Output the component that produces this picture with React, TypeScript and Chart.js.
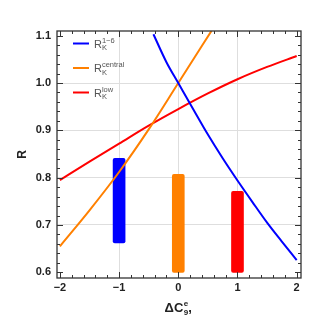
import React, { useEffect, useRef } from "react";
import { Chart, registerables } from "chart.js";

Chart.register(...registerables);

// ---- data ----
const blueX = [-0.42, -0.2, 0, 0.25, 0.5, 0.75, 1, 1.25, 1.5, 1.75, 2];
const blueY = [1.103, 1.044, 1.0, 0.945, 0.891, 0.841, 0.794, 0.749, 0.705, 0.665, 0.626];
const orangeX = [-2, -1.5, -1, -0.5, 0, 0.56];
const orangeY = [0.655, 0.731, 0.812, 0.902, 1.0, 1.11];
const redX = [-2, -1.5, -1, -0.5, 0, 0.5, 1, 1.5, 2];
const redY = [0.795, 0.834, 0.872, 0.91, 0.945, 0.978, 1.008, 1.034, 1.057];
const barX = [-1, 0, 1];
const barLow = [0.662, 0.6, 0.6];
const barHigh = [0.841, 0.807, 0.771];
const barColors = ["#0000ff", "#ff8000", "#ff0000"];
const xTicks = [-2, -1, 0, 1, 2];
const yTicks = [0.6, 0.7, 0.8, 0.9, 1.0, 1.1];
const legendSup = ["1\u22126", "central", "low"];
const legendColors = ["#0000ff", "#ff8000", "#ff0000"];

const FONT = "'Liberation Sans', Arial, sans-serif";

const zip = (xs: number[], ys: number[]) => xs.map((x, i) => ({ x, y: ys[i] }));

const framePlugin = {
  id: "framePlugin",
  afterDraw(chart: any) {
    const { ctx, chartArea } = chart;
    const { left, right, top, bottom } = chartArea;
    const xs = chart.scales.x;
    const ys = chart.scales.y;
    ctx.save();
    // ticks
    ctx.strokeStyle = "#333";
    ctx.lineWidth = 1;
    ctx.beginPath();
    for (let i = -10; i <= 10; i++) {
      const v = i / 5;
      const px = Math.round(xs.getPixelForValue(v)) + 0.5;
      const major = i % 5 === 0;
      const len = major ? 6 : 3;
      ctx.moveTo(px, bottom);
      ctx.lineTo(px, bottom - len);
      ctx.moveTo(px, top);
      ctx.lineTo(px, top + len);
    }
    for (let i = 30; i <= 55; i++) {
      const v = i / 50;
      const py = Math.round(ys.getPixelForValue(v)) + 0.5;
      const major = i % 5 === 0;
      const len = major ? 6 : 3;
      ctx.moveTo(left, py);
      ctx.lineTo(left + len, py);
      ctx.moveTo(right, py);
      ctx.lineTo(right - len, py);
    }
    ctx.stroke();
    // frame
    ctx.strokeStyle = "#333";
    ctx.lineWidth = 1.3;
    ctx.strokeRect(left, top, right - left, bottom - top);

    // legend
    const ly = [43.5, 68, 92.5];
    for (let i = 0; i < 3; i++) {
      ctx.strokeStyle = legendColors[i];
      ctx.lineWidth = 2;
      ctx.beginPath();
      ctx.moveTo(73, ly[i]);
      ctx.lineTo(89, ly[i]);
      ctx.stroke();
      ctx.fillStyle = "#555";
      ctx.textBaseline = "alphabetic";
      ctx.textAlign = "left";
      ctx.font = `11px ${FONT}`;
      const bx = 94;
      const by = ly[i] + 4;
      ctx.fillText("R", bx, by);
      const rw = ctx.measureText("R").width;
      ctx.font = `7.5px ${FONT}`;
      ctx.fillText("K", bx + rw, by + 2.5);
      ctx.fillText(legendSup[i], bx + rw, by - 5);
    }

    // y title
    ctx.fillStyle = "#222";
    ctx.font = `bold 12px ${FONT}`;
    ctx.save();
    ctx.translate(22.5, (top + bottom) / 2);
    ctx.rotate(-Math.PI / 2);
    ctx.textAlign = "center";
    ctx.textBaseline = "middle";
    ctx.fillText("R", 0, 0);
    ctx.restore();

    // x title
    ctx.textAlign = "left";
    ctx.textBaseline = "alphabetic";
    ctx.font = `bold 13px ${FONT}`;
    const main = "\u0394C";
    const mw = ctx.measureText(main).width;
    ctx.font = `bold 8px ${FONT}`;
    const sw = Math.max(ctx.measureText("9").width, ctx.measureText("e").width);
    ctx.font = `bold 13px ${FONT}`;
    const cw = ctx.measureText(",").width;
    const total = mw + sw + cw;
    const cx = (left + right) / 2 - 1;
    const x0 = cx - total / 2;
    const base = 312;
    ctx.fillText(main, x0, base);
    ctx.font = `bold 8px ${FONT}`;
    ctx.fillText("9", x0 + mw + 0.5, base + 2.5);
    ctx.fillText("e", x0 + mw + 0.5, base - 6);
    ctx.font = `bold 13px ${FONT}`;
    ctx.fillText(",", x0 + mw + sw + 0.5, base);
    ctx.restore();
  },
};

export default function App() {
  const ref = useRef<HTMLCanvasElement | null>(null);
  useEffect(() => {
    document.body.style.margin = "0";
    const canvas = ref.current!;
    const lineDs = (label: string, xs: number[], ys: number[], color: string) => ({
      type: "line" as const,
      label,
      data: zip(xs, ys),
      borderColor: color,
      backgroundColor: color,
      borderWidth: 2,
      pointRadius: 0,
      cubicInterpolationMode: "monotone" as const,
      fill: false,
      order: 1,
    });
    const gridColor = (c: any, edges: number[]) => {
      const v = c && c.tick ? c.tick.value : NaN;
      return edges.some((e) => Math.abs(v - e) < 1e-9) ? "rgba(0,0,0,0)" : "#dedede";
    };
    const chart = new Chart(canvas, {
      type: "line",
      data: {
        datasets: [
          lineDs("blue", blueX, blueY, "#0000ff"),
          lineDs("orange", orangeX, orangeY, "#ff8000"),
          lineDs("red", redX, redY, "#ff0000"),
          {
            type: "bar" as const,
            label: "bars",
            data: barX.map((x, i) => ({ x, y: [barLow[i], barHigh[i]] })) as any,
            backgroundColor: barColors,
            borderWidth: 0,
            borderRadius: 2,
            borderSkipped: false,
            barThickness: 12,
            order: 2,
          } as any,
        ],
      },
      options: {
        responsive: false,
        animation: false,
        maintainAspectRatio: false,
        layout: { padding: { top: 31, right: 18, left: 0, bottom: 0 } },
        plugins: { legend: { display: false }, tooltip: { enabled: false } },
        scales: {
          x: {
            type: "linear",
            min: -2.049,
            max: 2.073,
            offset: false,
            afterBuildTicks: (s: any) => {
              s.ticks = xTicks.map((v) => ({ value: v }));
            },
            afterFit: (s: any) => {
              s.height = 43;
            },
            grid: { color: (c: any) => gridColor(c, [-2, 2]), drawTicks: false, lineWidth: 1, offset: false },
            border: { display: false },
            ticks: {
              padding: 3,
              color: "#222",
              font: { family: FONT, size: 11, weight: "bold" },
              callback: (v: any) => (Number(v) < 0 ? "\u2212" + Math.abs(Number(v)) : String(v)),
            },
          },
          y: {
            type: "linear",
            min: 0.588,
            max: 1.1099,
            afterBuildTicks: (s: any) => {
              s.ticks = yTicks.map((v) => ({ value: v }));
            },
            afterFit: (s: any) => {
              s.width = 57;
            },
            grid: { color: (c: any) => gridColor(c, [0.6, 1.1]), drawTicks: false, lineWidth: 1, offset: false },
            border: { display: false },
            ticks: {
              padding: 6,
              color: "#222",
              font: { family: FONT, size: 11, weight: "bold" },
              callback: (v: any) => Number(v).toFixed(1),
            },
          },
        },
      },
      plugins: [framePlugin],
    });
    return () => chart.destroy();
  }, []);
  return <canvas ref={ref} width={319} height={321} style={{ display: "block" }} />;
}
